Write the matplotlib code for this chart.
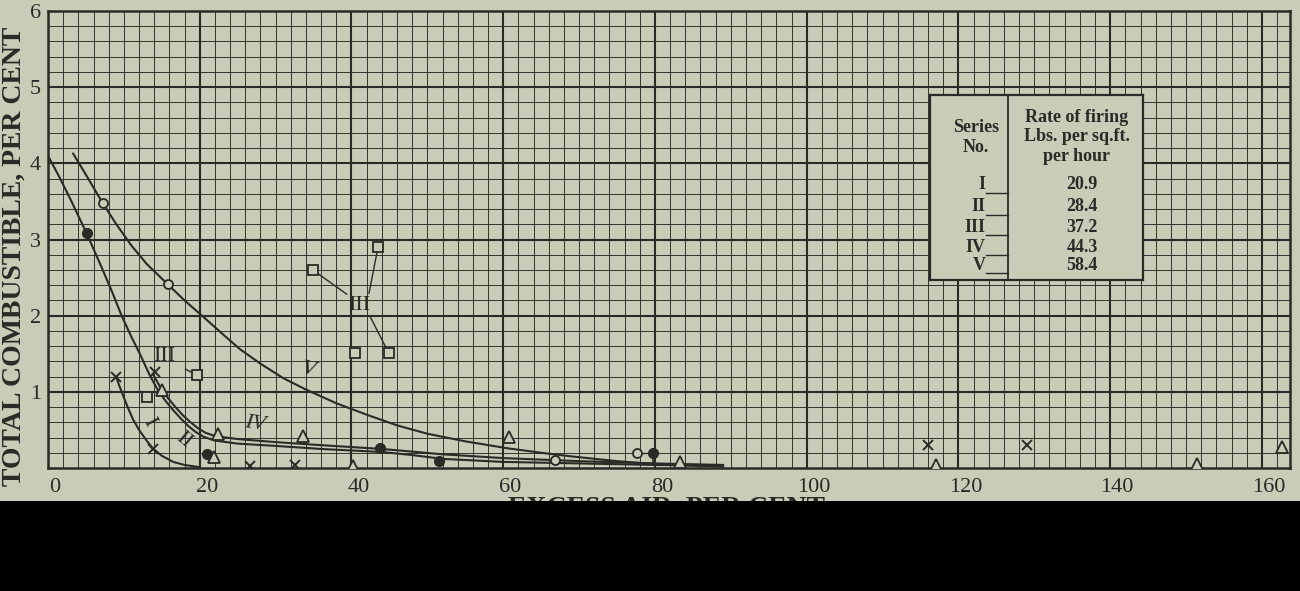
import matplotlib
matplotlib.use("Agg")
import matplotlib.pyplot as plt
import numpy as np
from matplotlib.transforms import ScaledTranslation
from matplotlib.patches import Rectangle

plt.rcParams['font.family'] = ['Liberation Serif', 'DejaVu Serif']

# ---------------- data ----------------
# hand-drawn curves through the series
curve_I_x = [9.0, 9.4, 9.9, 10.5, 11.2, 12.0, 13.0, 13.8, 15.0, 16.5, 18.0, 20.0]
curve_I_y = [1.19, 1.08, 0.95, 0.80, 0.64, 0.50, 0.36, 0.26, 0.16, 0.08, 0.04, 0.01]

curve_II_x = [0.0, 1.5, 3.0, 5.1, 7.0, 8.5, 9.7, 11.0, 12.1, 13.4, 14.5, 15.5,
              16.5, 17.5, 18.5, 19.5, 20.5, 22.0, 25.0, 30.0, 36.0, 44.0, 48.0,
              52.0, 60.0, 70.0, 80.0, 89.0]
curve_II_y = [4.10, 3.82, 3.52, 3.08, 2.65, 2.30, 2.00, 1.72, 1.50, 1.22, 1.02, 0.88,
              0.76, 0.65, 0.55, 0.47, 0.41, 0.36, 0.32, 0.29, 0.25, 0.21, 0.17,
              0.12, 0.08, 0.06, 0.04, 0.03]

curve_IV_x = [13.8, 14.8, 15.8, 16.8, 17.8, 18.8, 19.8, 20.8, 22.0, 25.0, 30.0,
              36.0, 44.0, 52.0, 60.0, 70.0, 80.0, 89.0]
curve_IV_y = [1.24, 1.06, 0.92, 0.80, 0.69, 0.60, 0.52, 0.46, 0.42, 0.38, 0.34,
              0.30, 0.25, 0.18, 0.13, 0.09, 0.06, 0.04]

curve_V_x = [3.3, 5.0, 7.2, 9.0, 11.0, 13.0, 15.8, 18.0, 20.3, 23.0, 25.3, 28.0,
             31.0, 34.0, 38.0, 42.0, 46.0, 50.0, 55.0, 60.5, 65.0, 69.2, 75.0,
             80.2, 85.0, 89.0]
curve_V_y = [4.13, 3.85, 3.48, 3.20, 2.92, 2.68, 2.41, 2.20, 2.00, 1.76, 1.56, 1.37,
             1.18, 1.03, 0.85, 0.70, 0.56, 0.45, 0.35, 0.26, 0.20, 0.15, 0.09,
             0.05, 0.03, 0.02]

# plotted test points per series
pts_I_x = [9.0, 14.1, 13.8, 26.6, 32.5, 116.0, 129.0]
pts_I_y = [1.19, 1.26, 0.25, 0.03, 0.04, 0.30, 0.30]

pts_II_x = [5.1, 20.9, 43.7, 51.6, 79.8]
pts_II_y = [3.08, 0.18, 0.26, 0.09, 0.20]

pts_III_x = [13.0, 19.6, 34.9, 43.5, 40.4, 44.9]
pts_III_y = [0.93, 1.22, 2.60, 2.90, 1.51, 1.51]

pts_IV_x = [15.0, 22.4, 21.9, 33.6, 40.2, 60.7, 83.3, 117.1, 151.5, 162.6]
pts_IV_y = [1.03, 0.45, 0.14, 0.42, 0.03, 0.41, 0.08, 0.04, 0.05, 0.27]

pts_V_x = [7.2, 15.8, 66.8, 77.6]
pts_V_y = [3.48, 2.41, 0.10, 0.20]

x_ticks = [0, 20, 40, 60, 80, 100, 120, 140, 160]
y_ticks = [1, 2, 3, 4, 5, 6]

series_no = ["I", "II", "III", "IV", "V"]
firing_rate = ["20.9", "28.4", "37.2", "44.3", "58.4"]

# ---------------- style ----------------
PAPER = "#c9ccb7"
INK = "#2a2a26"
W, H = 1300, 591

fig = plt.figure(figsize=(W / 100, H / 100), dpi=100, facecolor=PAPER)
ax = fig.add_axes([48 / W, 1 - 468 / H, 1242 / W, 457 / H])
ax.set_facecolor(PAPER)
ax.set_xlim(0, 163.7)
ax.set_ylim(0, 6)

# graph-paper grid
for gx in np.arange(2, 164, 2):
    major = abs(gx % 20) < 1e-6
    ax.axvline(gx, color=INK, lw=1.5 if major else 0.65, zorder=1)
for gy in np.arange(0.2, 6.0, 0.2):
    major = abs(gy - round(gy)) < 1e-6
    ax.axhline(gy, color=INK, lw=1.5 if major else 0.65, zorder=1)

for s in ax.spines.values():
    s.set_color(INK)
    s.set_linewidth(1.8)

ax.set_xticks(x_ticks)
ax.set_xticklabels([str(v) for v in x_ticks])
ax.set_yticks(y_ticks)
ax.set_yticklabels([str(v) for v in y_ticks])
ax.tick_params(length=0, labelsize=16, colors=INK)
ax.tick_params(axis='x', pad=7)
ax.tick_params(axis='y', pad=5)
for lab in ax.get_xticklabels():
    lab.set_transform(lab.get_transform() + ScaledTranslation(7 / 100, 0, fig.dpi_scale_trans))

# curves
for cx, cy in [(curve_I_x, curve_I_y), (curve_II_x, curve_II_y),
               (curve_IV_x, curve_IV_y), (curve_V_x, curve_V_y)]:
    ax.plot(cx, cy, color=INK, lw=1.5, zorder=3, solid_capstyle='round',
            solid_joinstyle='round')

# markers
ax.plot(pts_I_x, pts_I_y, 'x', ms=7, mew=1.4, color=INK, zorder=4)
ax.plot(pts_II_x, pts_II_y, 'o', ms=7, color=INK, zorder=4)
ax.plot(pts_III_x, pts_III_y, 's', ms=6.5, mfc=PAPER, mec=INK, mew=1.3, zorder=4)
ax.plot(pts_IV_x, pts_IV_y, '^', ms=8, mfc=PAPER, mec=INK, mew=1.3, zorder=4)
ax.plot(pts_V_x, pts_V_y, 'o', ms=6.5, mfc=PAPER, mec=INK, mew=1.3, zorder=4)

# connector between the two points near 80 and stem of the filled dot
ax.plot([pts_V_x[3], pts_II_x[4]], [pts_V_y[3], pts_II_y[4]], color=INK, lw=1.0, zorder=3)
ax.plot([pts_II_x[4], pts_II_x[4]], [pts_II_y[4], 0.05], color=INK, lw=1.2, zorder=3)

# curve labels
lab_kw = dict(color=INK, fontsize=16, ha='center', va='center', zorder=5)
ax.text(13.3, 0.60, "I", rotation=-62, **lab_kw)
ax.text(17.9, 0.36, "II", rotation=-40, **lab_kw)
ax.text(27.3, 0.58, "IV", rotation=-8, style='italic', **lab_kw)
ax.text(34.3, 1.28, "V", rotation=-12, style='italic', **lab_kw)

# III labels with leader lines
ax.annotate("III", xy=(pts_III_x[1], pts_III_y[1]), xytext=(15.3, 1.47),
            ha='center', va='center', fontsize=16, color=INK, zorder=5,
            arrowprops=dict(arrowstyle='-', color=INK, lw=1.0, shrinkA=6, shrinkB=4,
                            relpos=(1.0, 0.1)))
ax.text(41.0, 2.14, "III", ha='center', va='center', fontsize=16, color=INK, zorder=5)
for (sx, sy), (ex, ey) in [((39.4, 2.28), (pts_III_x[2], pts_III_y[2])),
                           ((42.3, 2.29), (pts_III_x[3], pts_III_y[3])),
                           ((42.4, 2.00), (pts_III_x[5], pts_III_y[5]))]:
    ax.annotate("", xy=(ex, ey), xytext=(sx, sy),
                arrowprops=dict(arrowstyle='-', color=INK, lw=1.0, shrinkA=0, shrinkB=4))

# axis titles
fig.text(14 / W, 1 - 256 / H, "TOTAL COMBUSTIBLE, PER CENT", rotation=90,
         ha='center', va='center', fontsize=20, weight='bold', color=INK)
fig.text(666 / W, 1 - 496 / H, "EXCESS AIR, PER CENT", ha='center', va='top',
         fontsize=20, weight='bold', color=INK, zorder=5)

# legend table
tab = fig.add_axes([930 / W, 1 - 280 / H, 213 / W, 185 / H], zorder=6)
tab.set_facecolor(PAPER)
tab.set_xlim(0, 1)
tab.set_ylim(0, 1)
tab.set_xticks([])
tab.set_yticks([])
for s in tab.spines.values():
    s.set_color(INK)
    s.set_linewidth(1.6)
tab.axvline(0.366, color=INK, lw=1.3)
tkw = dict(color=INK, weight='bold', ha='center', va='center')
tab.text(0.216, 0.822, "Series", fontsize=13, **tkw)
tab.text(0.216, 0.714, "No.", fontsize=13, **tkw)
tab.text(0.69, 0.881, "Rate of firing", fontsize=13, **tkw)
tab.text(0.69, 0.773, "Lbs. per sq.ft.", fontsize=13, **tkw)
tab.text(0.69, 0.665, "per hour", fontsize=13, **tkw)
row_y = [0.514, 0.395, 0.286, 0.178, 0.081]
for name, rate, ry in zip(series_no, firing_rate, row_y):
    tab.text(0.262, ry, name, fontsize=13, color=INK, weight='bold', ha='right', va='center')
    tab.plot([0.262, 0.366], [ry - 0.045, ry - 0.045], color=INK, lw=1.0)
    tab.text(0.714, ry, rate, fontsize=13, **tkw)

# dark band along the bottom of the scan
fig.add_artist(Rectangle((0, 0), 1, 90 / H, transform=fig.transFigure,
                         facecolor='black', edgecolor='none', zorder=10))

fig.savefig("out.png", dpi=100, facecolor=PAPER)
